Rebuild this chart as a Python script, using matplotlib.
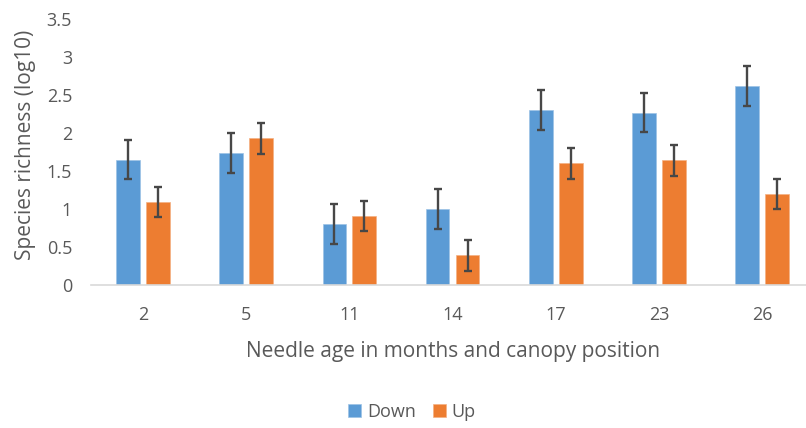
import matplotlib
matplotlib.use("Agg")
import matplotlib.pyplot as plt
import numpy as np

categories = ["2", "5", "11", "14", "17", "23", "26"]
down_values = [1.65, 1.74, 0.80, 1.00, 2.30, 2.27, 2.62]
down_errors = [0.26, 0.26, 0.26, 0.26, 0.26, 0.26, 0.26]
up_values = [1.09, 1.93, 0.91, 0.39, 1.60, 1.64, 1.20]
up_errors = [0.20, 0.20, 0.20, 0.20, 0.20, 0.20, 0.20]
yticks = [0, 0.5, 1, 1.5, 2, 2.5, 3, 3.5]
ytick_labels = ["0", "0.5", "1", "1.5", "2", "2.5", "3", "3.5"]

plt.rcParams['font.family'] = ['Open Sans', 'DejaVu Sans']

fig = plt.figure(figsize=(8.06, 4.28), dpi=100)
ax = fig.add_axes([0.1135, 0.334, 0.896, 0.6215])

x = np.arange(len(categories))
w = 0.23
off = 0.145
err_kw = dict(ecolor="#474747", elinewidth=1.7, capsize=3.0, capthick=1.7)
ax.bar(x - off, down_values, w, color="#5B9BD5", yerr=down_errors, error_kw=err_kw,
       label="Down", edgecolor="#9DC3E6", linewidth=0.5)
ax.bar(x + off, up_values, w, color="#ED7D31", yerr=up_errors, error_kw=err_kw,
       label="Up", edgecolor="#F4B183", linewidth=0.5)

ax.set_xlim(-0.5, len(categories) - 0.5)
ax.set_ylim(0, 3.5)
ax.set_yticks(yticks)
ax.set_yticklabels(ytick_labels)
ax.set_xticks(x)
ax.set_xticklabels(categories)

for s in ["top", "right", "left"]:
    ax.spines[s].set_visible(False)
ax.spines["bottom"].set_color("#D9D9D9")
ax.spines["bottom"].set_linewidth(1.2)
ax.tick_params(axis="both", length=0, labelsize=13, colors="#595959")
ax.tick_params(axis="y", pad=14)
ax.tick_params(axis="x", pad=15)

ax.set_xlabel("Needle age in months and canopy position", fontsize=15, color="#595959")
ax.set_ylabel("Species richness (log10)", fontsize=15, color="#595959")
ax.xaxis.set_label_coords(0.5, -0.21)
ax.yaxis.set_label_coords(-0.077, 0.526)

fig.legend(loc="center", bbox_to_anchor=(0.511, 0.037), ncol=2, frameon=False,
           fontsize=13, labelcolor="#595959", handlelength=0.72, handleheight=0.72,
           handletextpad=0.33, columnspacing=0.94, borderpad=0)

fig.savefig("out.png", dpi=100)
